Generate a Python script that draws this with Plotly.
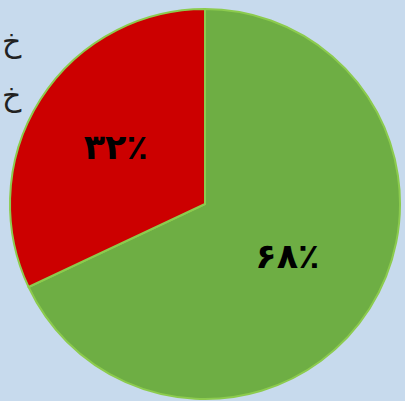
import plotly.graph_objects as go

labels = ["B", "A"]
values = [68, 32]
text_labels = ["۶۸٪", "۳۲٪"]
colors = ["#6EAE44", "#CC0000"]
side_texts = ["خ", "خ"]

fig = go.Figure(go.Pie(
    labels=labels,
    values=values,
    text=text_labels,
    textinfo="text",
    sort=False,
    direction="clockwise",
    rotation=0,
    marker=dict(colors=colors, line=dict(color="#8CCB4E", width=2)),
    textfont=dict(family="DejaVu Sans", size=35, color="black", weight="bold"),
    insidetextorientation="horizontal",
    textposition="inside",
    domain=dict(x=[10/405, 400/405], y=[2/401, 392/401]),
    showlegend=False,
    hoverinfo="none",
))

for t, yy in zip(side_texts, [0.945, 0.81]):
    fig.add_annotation(x=0.0, y=yy, xref="paper", yref="paper", text=t,
                       showarrow=False, xanchor="left",
                       font=dict(family="DejaVu Sans", size=30, color="#222"))

fig.update_layout(
    width=405, height=401,
    margin=dict(l=0, r=0, t=0, b=0),
    paper_bgcolor="#C7DAED",
    plot_bgcolor="#C7DAED",
)

fig.write_html("out.html", config={"displayModeBar": False},
               post_script="document.body.style.margin='0';")
